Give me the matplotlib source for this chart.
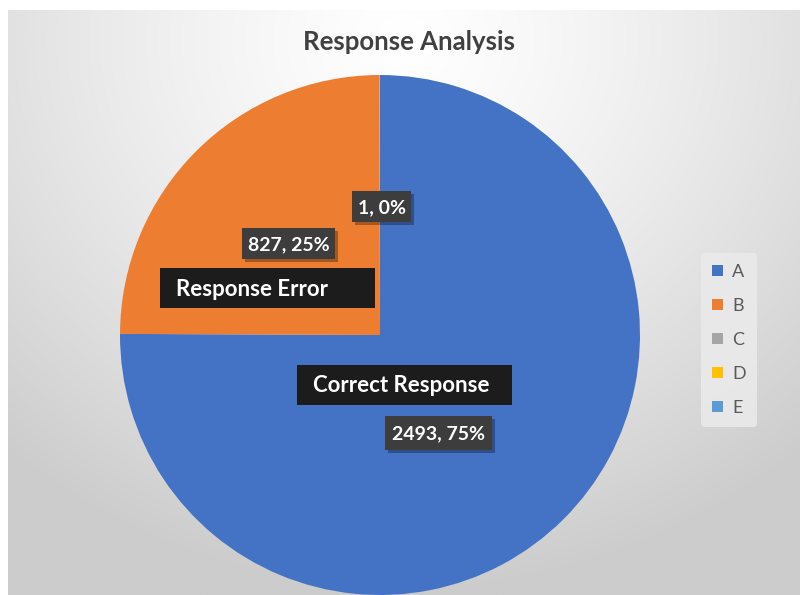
import numpy as np
import matplotlib
matplotlib.use("Agg")
import matplotlib.pyplot as plt
from matplotlib.patches import Rectangle

plt.rcParams['font.family'] = ['Lato', 'DejaVu Sans']

categories = ["A", "B", "C", "D", "E"]
values = [2493, 827, 1, 0, 0]
colors = ["#4472C4", "#ED7D31", "#A5A5A5", "#FFC000", "#5B9BD5"]
title = "Response Analysis"
value_labels = ["2493, 75%", "827, 25%", "1, 0%"]
name_labels = ["Correct Response", "Response Error"]

W, H = 800, 595
fig = plt.figure(figsize=(W / 100, H / 100), dpi=100)

# background radial gradient
bg = fig.add_axes([8 / W, 0, 1 - 8 / W, 1 - 10 / H])
yy, xx = np.mgrid[0:1:300j, 0:1:400j]
d = np.sqrt(((xx - 0.5) * 1.25) ** 2 + ((yy - 0.05) * 1.0) ** 2)
d = np.clip(d / 0.95, 0, 1)
shade = 1.0 - 0.2 * d ** 1.3
img = np.dstack([shade, shade, shade])
bg.imshow(img, aspect='auto', extent=[0, 1, 1, 0], interpolation='bilinear')
bg.set_axis_off()

# pie axes: center (380,335) radius 260
cx, cy, r = 380, 335, 260
ax = fig.add_axes([(cx - r) / W, (H - cy - r) / H, 2 * r / W, 2 * r / H])
wedges, _ = ax.pie(values, colors=colors, startangle=90, counterclock=False,
                   radius=1.0, wedgeprops=dict(linewidth=0))
ax.set_xlim(-1, 1)
ax.set_ylim(-1, 1)
ax.set_aspect('equal')
ax.set_axis_off()


def px(x, y):
    return (x - cx) / r, (cy - y) / r


def name_box(x0, y0, x1, y1, text, tx):
    a, b = px(x0, y1)
    c, d_ = px(x1, y0)
    ax.add_patch(Rectangle((a, b), c - a, d_ - b, facecolor="#1c1c1c",
                           edgecolor="none", zorder=5))
    tx_, ty_ = px(tx, (y0 + y1) / 2 + 1)
    ax.text(tx_, ty_, text, color="white", fontsize=16, fontweight='bold',
            ha='left', va='center', zorder=6)


def value_box(x0, y0, x1, y1, text):
    a, b = px(x0, y1)
    c, d_ = px(x1, y0)
    sh = 3 / r
    ax.add_patch(Rectangle((a + sh, b - sh), c - a, d_ - b, facecolor="black",
                           alpha=0.3, edgecolor="none", zorder=4))
    ax.add_patch(Rectangle((a, b), c - a, d_ - b, facecolor="#3d3d3d",
                           edgecolor="none", zorder=5))
    tx_, ty_ = px((x0 + x1) / 2, (y0 + y1) / 2 + 1)
    ax.text(tx_, ty_, text, color="white", fontsize=14, fontweight='bold',
            ha='center', va='center', zorder=6)


value_box(352, 191, 411, 222, value_labels[2])
value_box(242, 228, 335, 259, value_labels[1])
value_box(385, 416, 492, 450, value_labels[0])
name_box(160, 268, 375, 308, name_labels[1], 176)
name_box(297, 365, 512, 405, name_labels[0], 313)

fig.text(409 / W, 1 - 42 / H, title, ha='center', va='center', fontsize=18.5,
         fontweight='bold', color="#404040")

leg = fig.legend(wedges, categories, loc='center', bbox_to_anchor=(729 / W, 1 - 340 / H),
                 frameon=True, fontsize=13, handlelength=0.6, handleheight=0.6,
                 handletextpad=0.5, labelspacing=1.0, borderpad=0.6)
leg.get_frame().set_facecolor("#eaeaea")
leg.get_frame().set_edgecolor("none")
leg.get_frame().set_alpha(0.9)
for t in leg.get_texts():
    t.set_color("#595959")

fig.savefig("out.png", dpi=100, facecolor="white")
